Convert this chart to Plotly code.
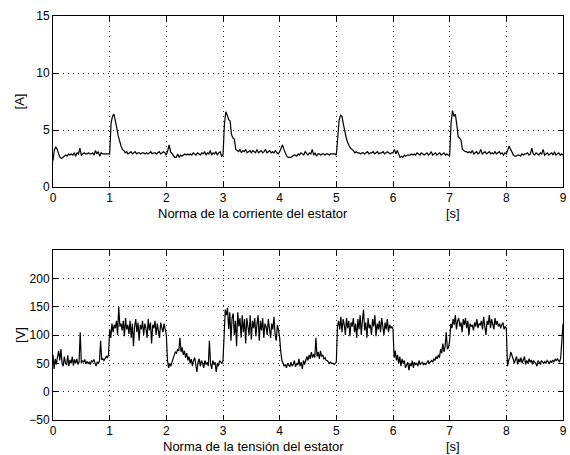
import numpy as np
import plotly.graph_objects as go
from plotly.subplots import make_subplots

# ---- data ----
dt_i = 0.025
corriente = [
    # 0 s
    2.3, 3.3, 3.5, 3.3, 2.9, 2.6, 2.5, 2.6, 2.7, 2.8, 2.7, 2.9, 2.8, 2.9, 2.8, 3.0, 2.7, 3.0, 2.9, 3.4,
    2.8, 2.9, 3.0, 2.9, 2.9, 3.0, 2.9, 2.9, 3.0, 2.8, 3.2, 2.9, 3.1, 2.7, 3.0, 2.9, 2.9, 2.9, 2.9, 2.9,
    # 1 s
    2.9, 5.6, 6.2, 6.4, 5.9, 5.2, 4.5, 3.9, 3.6, 3.3, 3.2, 3.0, 3.1, 2.9, 3.0, 3.1, 2.9, 3.0, 3.1, 2.9,
    3.0, 3.0, 2.9, 3.0, 3.0, 2.9, 3.0, 2.9, 3.0, 3.1, 2.9, 3.0, 3.0, 2.9, 3.0, 3.1, 2.9, 3.0, 3.1, 3.0,
    # 2 s
    2.8, 3.2, 3.7, 3.1, 2.9, 2.7, 2.6, 2.6, 2.9, 2.6, 2.8, 2.7, 2.8, 2.9, 2.8, 2.9, 2.8, 2.9, 2.8, 3.0,
    2.9, 2.8, 3.0, 2.9, 2.8, 3.0, 2.9, 3.1, 2.8, 3.0, 2.9, 3.2, 2.8, 3.0, 2.9, 3.1, 2.8, 3.0, 3.1, 2.7,
    # 3 s
    2.8, 5.5, 6.6, 6.3, 5.9, 5.8, 4.6, 4.3, 4.2, 3.3, 3.2, 3.1, 3.3, 3.0, 3.2, 3.1, 3.3, 3.0, 3.1, 3.2,
    3.0, 3.2, 3.1, 3.0, 3.3, 3.0, 3.1, 3.2, 3.0, 3.1, 3.3, 3.0, 3.1, 3.2, 3.0, 3.1, 3.0, 3.2, 3.0, 2.9,
    # 4 s
    3.1, 3.4, 3.7, 3.3, 2.9, 2.7, 2.6, 2.6, 2.6, 2.7, 2.8, 2.8, 2.7, 2.9, 2.8, 3.0, 2.9, 2.8, 3.1, 2.9,
    2.8, 3.0, 2.9, 3.3, 2.8, 3.0, 2.7, 2.9, 2.9, 2.8, 2.9, 2.9, 2.8, 2.9, 2.9, 2.8, 2.9, 2.9, 2.9, 2.9,
    # 5 s
    2.8, 4.8, 5.9, 6.3, 6.2, 5.5, 4.8, 4.3, 3.9, 3.6, 3.4, 3.3, 3.2, 3.0, 3.1, 3.0, 3.0, 2.9, 3.0, 3.0,
    2.9, 3.0, 3.1, 2.9, 3.0, 3.0, 3.1, 2.9, 3.0, 3.1, 2.9, 3.0, 3.0, 3.1, 2.9, 3.0, 3.1, 3.0, 2.9, 3.0,
    # 6 s
    3.0, 3.3, 2.9, 3.2, 2.9, 2.6, 2.7, 2.6, 2.8, 2.7, 2.8, 2.8, 2.8, 2.9, 2.8, 2.9, 2.8, 3.0, 2.9, 2.8,
    3.0, 2.9, 2.8, 2.9, 3.0, 2.8, 2.9, 3.1, 2.8, 2.9, 3.0, 2.8, 2.9, 3.0, 2.8, 2.9, 3.0, 2.8, 2.9, 2.8,
    # 7 s
    2.8, 5.6, 6.7, 6.2, 6.4, 5.5, 4.4, 4.3, 4.1, 3.3, 3.2, 3.1, 3.1, 3.0, 3.1, 3.0, 3.2, 2.9, 3.0, 3.1,
    2.9, 3.0, 3.3, 2.9, 3.0, 3.1, 2.9, 3.0, 3.1, 2.9, 3.0, 2.9, 3.1, 2.9, 3.0, 3.1, 2.9, 3.0, 2.8, 3.0,
    # 8 s
    2.9, 3.2, 3.6, 3.3, 3.0, 2.8, 2.7, 2.7, 2.8, 2.8, 2.7, 2.9, 2.8, 2.9, 2.9, 3.0, 2.8, 2.9, 3.4, 2.9,
    2.8, 3.0, 2.9, 2.8, 3.0, 2.9, 3.3, 2.8, 2.9, 3.0, 2.8, 2.9, 3.0, 2.8, 3.1, 2.8, 2.9, 3.0, 2.8, 2.9,
    2.8,
]
t_i = [round(k * dt_i, 4) for k in range(len(corriente))]

dt_v = 0.02
tension = [
    # 0 s
    65, 40, 58, 48, 62, 72, 55, 75, 50, 45, 62, 50, 47, 64, 45, 56, 50, 62, 46, 57,
    50, 58, 48, 52, 105, 50, 55, 52, 57, 49, 53, 50, 52, 48, 55, 52, 57, 50, 45, 52,
    50, 54, 90, 56, 58, 55, 60, 62, 60, 65,
    # 1 s
    110, 95, 120, 105, 118, 112, 125, 100, 150, 115, 120, 108, 125, 98, 130, 110, 118, 102, 125, 95,
    120, 80, 115, 128, 105, 122, 90, 118, 110, 125, 100, 120, 112, 95, 128, 108, 122, 85, 118, 112,
    125, 100, 120, 110, 95, 122, 115, 105, 120, 112,
    # 2 s
    100, 55, 42, 50, 45, 52, 60, 65, 70, 68, 75, 72, 95, 70, 78, 65, 72, 60, 68, 55,
    62, 50, 58, 45, 55, 60, 48, 35, 52, 58, 45, 55, 50, 42, 55, 48, 52, 45, 90, 50,
    40, 55, 48, 52, 35, 50, 45, 55, 52, 50,
    # 3 s
    55, 120, 145, 135, 148, 110, 140, 90, 130, 138, 100, 125, 80, 140, 115, 130, 95, 135, 105, 128,
    85, 130, 118, 100, 135, 92, 125, 112, 130, 98, 120, 135, 90, 125, 108, 130, 95, 120, 115, 100,
    128, 105, 95, 120, 110, 132, 100, 90, 118, 108,
    # 4 s
    95, 70, 55, 50, 45, 48, 42, 50, 46, 44, 52, 45, 48, 55, 44, 50, 47, 58, 45, 52,
    40, 55, 48, 58, 62, 55, 65, 58, 70, 60, 66, 60, 95, 62, 70, 58, 72, 62, 65, 58,
    60, 55, 55, 52, 50, 52, 50, 50, 48, 50,
    # 5 s
    52, 115, 125, 110, 132, 105, 128, 118, 100, 130, 112, 125, 98, 122, 115, 130, 105, 120, 95, 128,
    110, 135, 100, 125, 145, 108, 122, 95, 130, 112, 118, 100, 128, 115, 135, 98, 120, 110, 125, 105,
    130, 115, 100, 122, 110, 128, 105, 118, 112, 115,
    # 6 s
    110, 60, 72, 55, 65, 50, 62, 45, 58, 50, 55, 42, 48, 52, 38, 50, 45, 55, 42, 52,
    48, 50, 45, 55, 48, 50, 52, 47, 50, 48, 52, 55, 50, 53, 55, 52, 58, 55, 62, 58,
    65, 60, 75, 68, 85, 70, 80, 105, 75, 78,
    # 7 s
    90, 120, 112, 128, 118, 135, 110, 125, 130, 115, 122, 105, 128, 118, 130, 112, 125, 100, 120, 115,
    118, 108, 122, 115, 128, 112, 120, 118, 125, 110, 132, 115, 100, 125, 118, 135, 112, 128, 120, 110,
    130, 118, 125, 115, 120, 112, 118, 122, 110, 115,
    # 8 s
    112, 45, 55, 60, 70, 65, 58, 50, 55, 62, 48, 58, 52, 60, 50, 55, 62, 48, 55, 50,
    58, 52, 56, 48, 55, 52, 50, 45, 55, 52, 48, 55, 52, 50, 53, 50, 55, 52, 50, 54,
    52, 55, 53, 57, 55, 58, 55, 52, 60, 90, 120,
]
t_v = [round(k * dt_v, 4) for k in range(len(tension))]

x_ticks = [0, 1, 2, 3, 4, 5, 6, 7, 8, 9]
yA_ticks = [0, 5, 10, 15]
yV_ticks = [-50, 0, 50, 100, 150, 200]
yV_labels = ["\u221250", "0", "50", "100", "150", "200"]

# ---- figure ----
W, H = 570, 455
ml, mr, mt, mb = 53, 3, 16, 35
ph = H - mt - mb

def frac(py):
    return 1 - (py - mt) / ph

fig = make_subplots(rows=2, cols=1)
fig.add_trace(go.Scatter(x=t_i, y=corriente, mode="lines",
                         line=dict(color="black", width=1.2), showlegend=False), row=1, col=1)
fig.add_trace(go.Scatter(x=t_v, y=tension, mode="lines",
                         line=dict(color="black", width=1.2), showlegend=False), row=2, col=1)

tickfont = dict(family="Liberation Sans, Arial, sans-serif", size=12, color="black")
titlefont = dict(family="Liberation Sans, Arial, sans-serif", size=13, color="black")
axcommon = dict(showline=True, linecolor="black", linewidth=1, mirror="ticks",
                ticks="inside", ticklen=5, tickcolor="black",
                showgrid=True, gridcolor="#222222", griddash="1px,4px", gridwidth=1,
                zeroline=False, tickfont=tickfont, ticklabeloverflow="allow")

fig.update_xaxes(range=[0, 9], tickvals=x_ticks, **axcommon)
fig.update_yaxes(**axcommon)
fig.update_yaxes(range=[0, 15], tickvals=yA_ticks, row=1, col=1,
                 title=dict(text="[A]", font=titlefont, standoff=8))
fig.update_yaxes(range=[-50, 250], tickvals=yV_ticks, ticktext=yV_labels, row=2, col=1,
                 title=dict(text="[V]", font=titlefont, standoff=0))

fig.update_layout(
    width=W, height=H,
    margin=dict(l=ml, r=mr, t=mt, b=mb),
    paper_bgcolor="white", plot_bgcolor="white",
    font=tickfont,
    yaxis=dict(domain=[frac(187), 1]),
    yaxis2=dict(domain=[0, frac(250)]),
)

annots = [
    ("Norma de la corriente del estator", 255, 213),
    ("[s]", 456, 213),
    ("Norma de la tensi\u00f3n del estator", 255, 446),
    ("[s]", 456, 446),
]
for txt, px, py in annots:
    fig.add_annotation(text=txt, xref="paper", yref="paper",
                       x=(px - ml) / (W - ml - mr), y=1 - (py - mt) / ph,
                       showarrow=False, xanchor="center", yanchor="middle", font=titlefont)

fig.write_html("out.html")
